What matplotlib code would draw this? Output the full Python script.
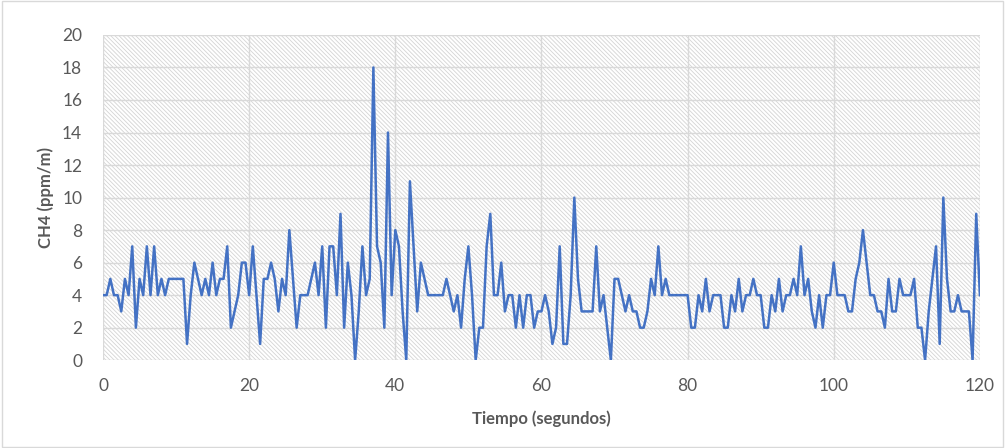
import matplotlib
matplotlib.use("Agg")
import matplotlib.pyplot as plt
from matplotlib.patches import Rectangle

# Tiempo cada 0.5 s, de 0 a 120 s
tiempo = [i * 0.5 for i in range(241)]

ch4 = [
    4, 4, 5, 4, 4, 3, 5, 4, 7, 2, 5, 4, 7, 4, 7, 4, 5, 4, 5, 5,
    5, 5, 5, 1, 4, 6, 5, 4, 5, 4, 6, 4, 5, 5, 7, 2, 3, 4, 6, 6,
    4, 7, 4, 1, 5, 5, 6, 5, 3, 5, 4, 8, 5, 2, 4, 4, 4, 5, 6, 4,
    7, 2, 7, 7, 4, 9, 2, 6, 4, 0, 3, 7, 4, 5, 18, 7, 6, 2, 14, 4,
    8, 7, 3, 0, 11, 7, 3, 6, 5, 4, 4, 4, 4, 4, 5, 4, 3, 4, 2, 5,
    7, 4, 0, 2, 2, 7, 9, 4, 4, 6, 3, 4, 4, 2, 4, 2, 4, 4, 2, 3,
    3, 4, 3, 1, 2, 7, 1, 1, 4, 10, 5, 3, 3, 3, 3, 7, 3, 4, 2, 0,
    5, 5, 4, 3, 4, 3, 3, 2, 2, 3, 5, 4, 7, 4, 5, 4, 4, 4, 4, 4,
    4, 2, 2, 4, 3, 5, 3, 4, 4, 4, 2, 2, 4, 3, 5, 3, 4, 4, 5, 4,
    4, 2, 2, 4, 3, 5, 3, 4, 4, 5, 4, 7, 4, 5, 3, 2, 4, 2, 4, 4,
    6, 4, 4, 4, 3, 3, 5, 6, 8, 6, 4, 4, 3, 3, 2, 5, 3, 3, 5, 4,
    4, 4, 5, 2, 2, 0, 3, 5, 7, 1, 10, 5, 3, 3, 4, 3, 3, 3, 0, 9,
    4,
]

xticks = [0, 20, 40, 60, 80, 100, 120]
yticks = list(range(0, 21, 2))

plt.rcParams["font.family"] = ["Lato", "DejaVu Sans"]
plt.rcParams["hatch.color"] = "#d4d4d4"
plt.rcParams["hatch.linewidth"] = 0.6

fig = plt.figure(figsize=(10.05, 4.48), dpi=100)
ax = fig.add_axes([0.1025, 0.196, 0.8725, 0.726])

# fondo rayado del área de trazado
ax.add_patch(Rectangle((0, 0), 1, 1, transform=ax.transAxes, facecolor="white",
                       edgecolor="#d4d4d4", hatch="\\" * 8, linewidth=0, zorder=0))

ax.plot(tiempo, ch4, color="#4472C4", linewidth=1.8, zorder=3)

ax.set_xlim(0, 120)
ax.set_ylim(0, 20)
ax.set_xticks(xticks)
ax.set_yticks(yticks)
ax.grid(True, color="#d9d9d9", linewidth=1, zorder=1)
ax.set_axisbelow(True)
for s in ax.spines.values():
    s.set_visible(False)
ax.tick_params(length=0, labelsize=12.5, colors="#595959", pad=13)
ax.tick_params(axis="y", pad=15)

ax.set_xlabel("Tiempo (segundos)", fontsize=12, fontweight="bold", color="#595959", labelpad=12)
ax.set_ylabel("CH4 (ppm/m)", fontsize=12, fontweight="bold", color="#595959", labelpad=6)

# borde del gráfico
fig.patches.append(Rectangle((0.002, 0.003), 0.996, 0.994, transform=fig.transFigure,
                             fill=False, edgecolor="#d9d9d9", linewidth=1))

fig.savefig("out.png", dpi=100)
